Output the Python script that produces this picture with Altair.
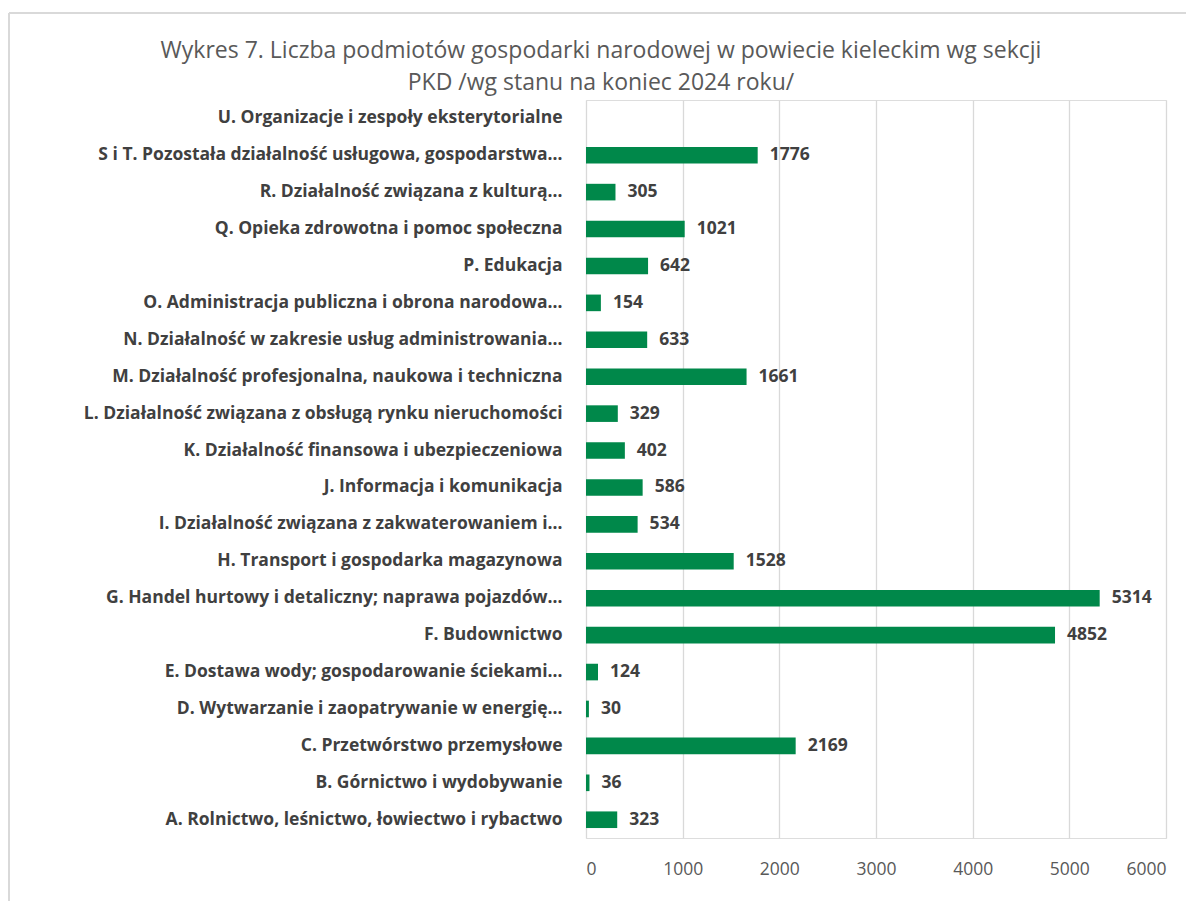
import altair as alt
import pandas as pd

categories = [
    "A. Rolnictwo, leśnictwo, łowiectwo i rybactwo",
    "B. Górnictwo i wydobywanie",
    "C. Przetwórstwo przemysłowe",
    "D. Wytwarzanie i zaopatrywanie w energię…",
    "E. Dostawa wody; gospodarowanie ściekami…",
    "F. Budownictwo",
    "G. Handel hurtowy i detaliczny; naprawa pojazdów…",
    "H. Transport i gospodarka magazynowa",
    "I. Działalność związana z zakwaterowaniem i…",
    "J. Informacja i komunikacja",
    "K. Działalność finansowa i ubezpieczeniowa",
    "L. Działalność związana z obsługą rynku nieruchomości",
    "M. Działalność profesjonalna, naukowa i techniczna",
    "N. Działalność w zakresie usług administrowania…",
    "O. Administracja publiczna i obrona narodowa…",
    "P. Edukacja",
    "Q. Opieka zdrowotna i pomoc społeczna",
    "R. Działalność związana z kulturą…",
    "S i T. Pozostała działalność usługowa, gospodarstwa…",
    "U. Organizacje i zespoły eksterytorialne",
]
values = [323, 36, 2169, 30, 124, 4852, 5314, 1528, 534, 586, 402, 329, 1661,
          633, 154, 642, 1021, 305, 1776, None]
x_ticks = [0, 1000, 2000, 3000, 4000, 5000, 6000]
title_lines = [
    "Wykres 7. Liczba podmiotów gospodarki narodowej w powiecie kieleckim wg sekcji",
    "PKD /wg stanu na koniec 2024 roku/",
]

df = pd.DataFrame({"kat": categories, "val": values})
order = list(reversed(categories))

FONT = "Open Sans"
GREEN = "#00884A"
LBL = 17.5

y_enc = alt.Y("kat:N", sort=order, title=None,
              scale=alt.Scale(paddingInner=0.55, paddingOuter=0.27),
              axis=alt.Axis(labelFontSize=LBL, labelFontWeight="bold", labelColor="#404040",
                            labelFont=FONT, labelLimit=700, ticks=False, domain=False,
                            labelPadding=24))
x_enc = alt.X("val:Q", title=None,
              scale=alt.Scale(domain=[0, 6000], nice=False),
              axis=alt.Axis(values=x_ticks, format="d", labelFontSize=17.5,
                            labelColor="#595959", labelFont=FONT, ticks=False,
                            domain=False, gridColor="#d9d9d9", gridWidth=1.3,
                            labelPadding=22))

bars = alt.Chart(df).mark_bar(color=GREEN).encode(x=x_enc, y=y_enc)

labels = alt.Chart(df).transform_filter("datum.val != null").mark_text(
    align="left", baseline="middle", dx=12, fontSize=LBL, fontWeight="bold",
    color="#404040", font=FONT
).encode(x="val:Q", y=alt.Y("kat:N", sort=order), text="val:Q")

frame_base = alt.Chart(pd.DataFrame({"a": [0]}))
frame_top = frame_base.mark_rule(color="#d9d9d9", strokeWidth=2).encode(
    x=alt.value(-577), x2=alt.value(700), y=alt.value(-87))
frame_left = frame_base.mark_rule(color="#d9d9d9", strokeWidth=2).encode(
    x=alt.value(-577), y=alt.value(-87), y2=alt.value(900))

title1 = alt.Chart(pd.DataFrame({"t": [title_lines[0]]})).mark_text(
    align="center", baseline="middle", fontSize=23, color="#595959", font=FONT
).encode(text="t:N", x=alt.value(15), y=alt.value(-49))
title2 = alt.Chart(pd.DataFrame({"t": [title_lines[1]]})).mark_text(
    align="center", baseline="middle", fontSize=23, color="#595959", font=FONT
).encode(text="t:N", x=alt.value(15), y=alt.value(-17))

chart = alt.layer(frame_top, frame_left, title1, title2, bars, labels).properties(
    width=580, height=738,
    autosize=alt.AutoSizeParams(type="none"),
    padding={"left": 578, "top": 92, "right": 20, "bottom": 63},
).configure_view(stroke=None).configure(background="white")

chart.save("out.html", embed_options={"renderer": "svg", "actions": False})
